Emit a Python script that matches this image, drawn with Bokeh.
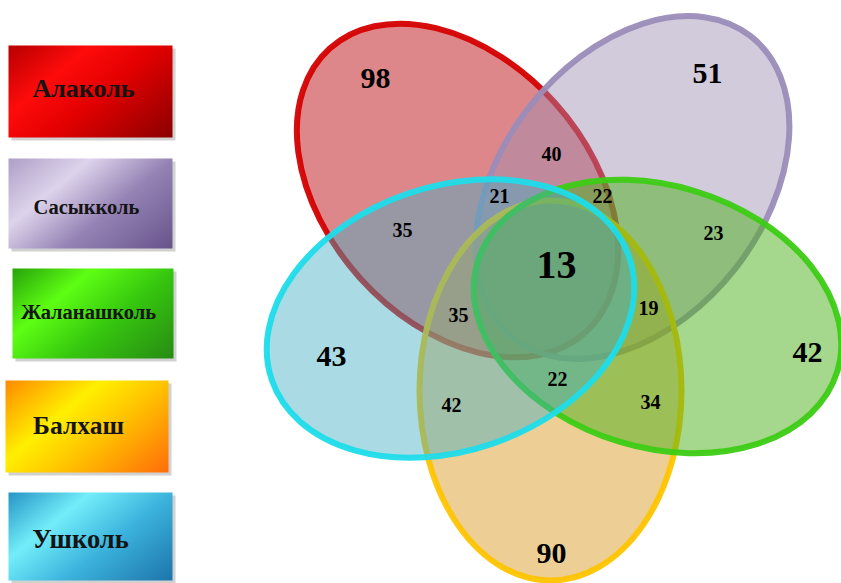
import numpy as np
from bokeh.plotting import figure
from bokeh.models import Range1d, ColumnDataSource
from bokeh.core.properties import value
from bokeh.embed import file_html
from bokeh.resources import INLINE

W, H = 841, 583

# ---------------- data ----------------
set_names = ["Алаколь", "Сасыкколь", "Жаланашколь", "Балхаш", "Ушколь"]
region_counts = [98, 51, 42, 90, 43, 40, 21, 22, 35, 23, 13, 35, 19, 22, 42, 34]

# ---------------- layout (screen pixels, y downwards) ----------------
# ellipses drawn in this order: Алаколь, Сасыкколь, Балхаш, Жаланашколь, Ушколь
ell_order = [0, 1, 3, 2, 4]
ell_cx = [457, 632, 657, 550, 450]
ell_cy = [190, 187, 316, 390, 318]
ell_w = [382, 384, 376, 380, 378]
ell_h = [262, 262, 262, 262, 264]
ell_angle_deg = [-48, 52, -17, 90, 19]          # counter-clockwise, y up
ell_fill = ["#c8373c", "#9b8cb1", "#4baf19", "#dba02d", "#42adc3"]
ell_alpha = [0.6, 0.45, 0.5, 0.5, 0.45]
ell_line = ["#d40000", "#9a8cb8", "#3ccc14", "#ffc400", "#1edcea"]

lab_x = [375, 707, 807, 551, 331, 551, 499, 602, 402, 713, 556, 458, 648, 557, 451, 650]
lab_y = [78, 73, 352, 553, 356, 153, 195, 195, 229, 232, 264, 314, 307, 378, 404, 401]
lab_size = ["30px", "30px", "30px", "30px", "30px", "20px", "20px", "20px", "20px", "20px",
            "40px", "20px", "20px", "20px", "20px", "20px"]

box_x0 = [8, 8, 12, 5, 8]
box_y0 = [45, 158, 268, 380, 492]
box_x1 = [172, 172, 173, 168, 172]
box_y1 = [137, 248, 358, 472, 580]
box_text_x = [83, 86, 88, 78, 80]
box_text_y = [88, 206, 311, 425, 538]
box_text_size = ["26px", "20.5px", "20.5px", "25.5px", "26.5px"]
box_stops = [
    [(0.0, (185, 0, 0)), (0.3, (255, 12, 12)), (0.55, (228, 0, 0)), (1.0, (140, 0, 0))],
    [(0.0, (175, 160, 200)), (0.3, (222, 212, 236)), (0.6, (150, 132, 182)), (1.0, (105, 85, 140))],
    [(0.0, (40, 165, 10)), (0.3, (95, 255, 20)), (0.6, (55, 200, 15)), (1.0, (40, 140, 20))],
    [(0.0, (255, 140, 0)), (0.35, (255, 240, 0)), (0.6, (255, 195, 0)), (1.0, (255, 110, 10))],
    [(0.0, (40, 150, 200)), (0.3, (115, 238, 250)), (0.6, (60, 180, 222)), (1.0, (30, 118, 172))],
]


def fy(y):
    return H - y


def gradient_image(w, h, stops):
    yy, xx = np.mgrid[0:h, 0:w]
    t = (xx / max(w - 1, 1) * 0.6 + yy / max(h - 1, 1) * 0.4)
    ts = [s[0] for s in stops]
    img = np.zeros((h, w), dtype=np.uint32)
    view = img.view(dtype=np.uint8).reshape((h, w, 4))
    for c in range(3):
        view[:, :, c] = np.interp(t, ts, [s[1][c] for s in stops]).astype(np.uint8)
    view[:, :, 3] = 255
    return img[::-1]


p = figure(width=W, height=H, x_range=Range1d(0, W), y_range=Range1d(0, H),
           output_backend="svg", toolbar_location=None, min_border=0)
p.axis.visible = False
p.grid.visible = False
p.outline_line_color = None
p.background_fill_color = "white"
p.border_fill_color = "white"

# ---------------- legend boxes ----------------
for i in range(5):
    x0, y0, x1, y1 = box_x0[i], box_y0[i], box_x1[i], box_y1[i]
    w, h = x1 - x0, y1 - y0
    p.quad(left=x0 + 3, right=x1 + 3, top=fy(y0 + 3), bottom=fy(y1 + 3),
           fill_color="#7a7a7a", fill_alpha=0.35, line_color=None)
    p.image_rgba(image=[gradient_image(w, h, box_stops[i])], x=x0, y=fy(y1), dw=w, dh=h)

bsrc = ColumnDataSource(dict(x=box_text_x, y=[fy(v) for v in box_text_y],
                             t=set_names, s=box_text_size))
p.text(x="x", y="y", text="t", source=bsrc, text_font=value("Liberation Serif"),
       text_font_style="bold", text_font_size="s", text_color="#141414",
       text_align="center", text_baseline="middle")

# ---------------- ellipses ----------------
for i in ell_order:
    p.ellipse(x=ell_cx[i], y=fy(ell_cy[i]), width=ell_w[i], height=ell_h[i],
              angle=np.deg2rad(ell_angle_deg[i]), fill_color=ell_fill[i],
              fill_alpha=ell_alpha[i], line_color=ell_line[i], line_width=6,
              line_alpha=0.95)

# ---------------- region counts ----------------
lsrc = ColumnDataSource(dict(x=lab_x, y=[fy(v) for v in lab_y],
                             t=[str(v) for v in region_counts], s=lab_size))
p.text(x="x", y="y", text="t", source=lsrc, text_font=value("Liberation Serif"),
       text_font_style="bold", text_font_size="s", text_color="black",
       text_align="center", text_baseline="middle")

open("out.html", "w").write(file_html(p, INLINE))
